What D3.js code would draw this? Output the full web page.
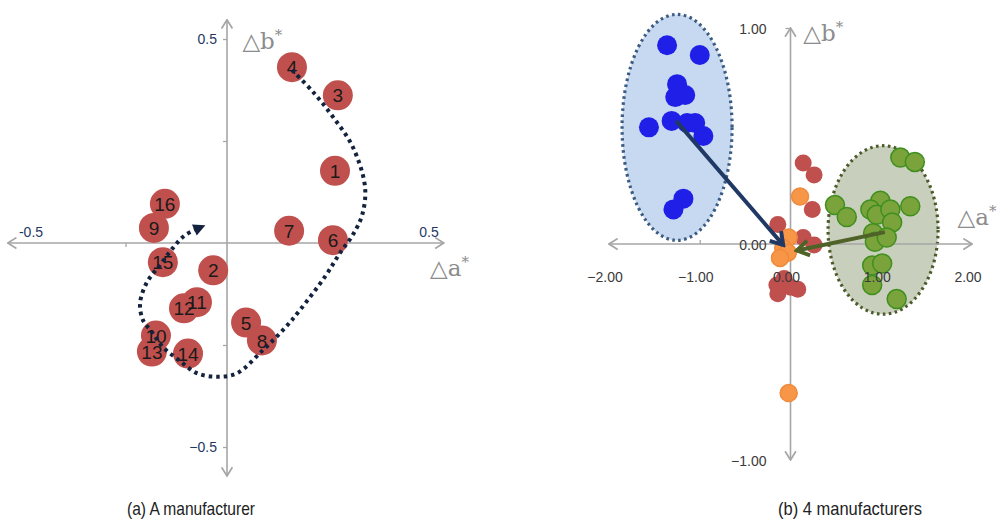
<!DOCTYPE html>
<html>
<head>
<meta charset="utf-8">
<script src="https://cdn.jsdelivr.net/npm/d3@7"></script>
<style>
  body { margin: 0; background: #fff; }
  svg { display: block; }
</style>
</head>
<body>
<div id="chart"></div>
<script>
// ---- panel (a): one manufacturer, 16 samples ----
const aIds = [1, 2, 3, 4, 5, 6, 7, 8, 9, 10, 11, 12, 13, 14, 15, 16];
const aX = [0.266, -0.034, 0.273, 0.160, 0.047, 0.261, 0.153, 0.086, -0.180, -0.175, -0.074, -0.106, -0.185, -0.096, -0.158, -0.153];
const aY = [0.177, -0.067, 0.362, 0.431, -0.195, 0.007, 0.030, -0.239, 0.037, -0.227, -0.145, -0.160, -0.266, -0.271, -0.047, 0.096];

// dotted trend path (drawn through the scales)
const trendX = [0.160, 0.212, 0.261, 0.310, 0.340, 0.333, 0.310, 0.278, 0.241, 0.180, 0.143, 0.089, 0.025, -0.022, -0.074, -0.116, -0.158, -0.185, -0.207, -0.214, -0.197, -0.165, -0.133, -0.105, -0.075];
const trendY = [0.424, 0.370, 0.309, 0.235, 0.137, 0.069, 0.020, -0.025, -0.083, -0.164, -0.208, -0.262, -0.319, -0.328, -0.319, -0.289, -0.255, -0.218, -0.189, -0.147, -0.096, -0.054, -0.012, 0.018, 0.034];

const aTickLabels = ["-0.5", "0.5"];

// ---- panel (b): four manufacturers ----
const redX = [0.14, 0.26, 0.24, -0.14, 0.14, 0.26, -0.12, -0.15, 0.00, -0.14, 0.08, -0.07];
const redY = [0.375, 0.32, 0.16, 0.09, 0.03, -0.005, -0.065, -0.19, -0.20, -0.23, -0.21, -0.16];
const orangeX = [0.105, -0.02, -0.08, -0.03, -0.115, -0.02];
const orangeY = [0.22, 0.03, -0.02, -0.04, -0.065, -0.69];
const blueX = [-1.36, -1.00, -1.25, -1.16, -1.27, -1.56, -1.31, -1.14, -1.05, -0.96, -1.18, -1.29];
const blueY = [0.92, 0.875, 0.74, 0.69, 0.68, 0.54, 0.57, 0.56, 0.56, 0.50, 0.21, 0.16];
const greenX = [1.21, 1.37, 0.49, 0.62, 0.99, 0.88, 0.95, 1.10, 1.32, 1.12, 0.91, 0.93, 1.06, 0.90, 1.01, 0.90, 1.17];
const greenY = [0.40, 0.38, 0.18, 0.125, 0.20, 0.16, 0.135, 0.16, 0.175, 0.10, 0.05, 0.01, 0.03, -0.10, -0.09, -0.19, -0.255];

// cluster ellipses: [cx, cy, rx, ry] in data units
const blueCluster = [-1.25, 0.54, 0.606, 0.523];
const greenCluster = [1.02, 0.065, 0.606, 0.39];

// shift arrows: [x1, y1, x2, y2]
const blueShift = [-1.26, 0.57, -0.08, -0.005];
const greenShift = [1.04, 0.055, 0.07, -0.03];

const bXTicks = [-2, -1, 0, 1, 2];
const bYTicks = [1, 0, -1];

const captions = ["(a) A manufacturer", "(b) 4 manufacturers"];

const W = 1004, H = 527;
const svg = d3.select("#chart").append("svg").attr("width", W).attr("height", H);

const defs = svg.append("defs");
defs.append("marker")
    .attr("id", "axis-arrow")
    .attr("viewBox", "0 0 10 12")
    .attr("refX", 9).attr("refY", 6)
    .attr("markerUnits", "userSpaceOnUse")
    .attr("markerWidth", 11).attr("markerHeight", 13)
    .attr("orient", "auto-start-reverse")
    .append("path")
    .attr("d", "M1,1L9,6L1,11")
    .attr("fill", "none")
    .attr("stroke", "#a6a6a6")
    .attr("stroke-width", 1.6);

defs.append("marker")
    .attr("id", "trend-arrow")
    .attr("viewBox", "0 0 10 10")
    .attr("refX", 2).attr("refY", 5)
    .attr("markerUnits", "userSpaceOnUse")
    .attr("markerWidth", 15).attr("markerHeight", 12)
    .attr("orient", "auto")
    .append("path")
    .attr("d", "M0,0L10,5L0,10Z")
    .attr("fill", "#14233d");

function chevron(id, color) {
    defs.append("marker")
        .attr("id", id)
        .attr("viewBox", "0 0 12 12")
        .attr("refX", 10).attr("refY", 6)
        .attr("markerUnits", "userSpaceOnUse")
        .attr("markerWidth", 18).attr("markerHeight", 18)
        .attr("orient", "auto")
        .append("path")
        .attr("d", "M2,1L10,6L2,11")
        .attr("fill", "none")
        .attr("stroke", color)
        .attr("stroke-width", 2.6)
        .attr("stroke-linejoin", "miter");
}
chevron("shift-blue", "#1f3864");
chevron("shift-green", "#4f6228");

function axisTitle(g, x, y, letter) {
    const t = g.append("text")
        .attr("x", x).attr("y", y)
        .attr("font-family", "DejaVu Serif, Liberation Serif, serif")
        .attr("font-size", 23)
        .attr("fill", "#8c8c8c");
    t.append("tspan").text("\u25B3" + letter);
    t.append("tspan").attr("dy", -9).attr("font-size", 15).text("*");
}

// ================= panel (a) =================
const xA = d3.scaleLinear().domain([-0.5, 0.5]).range([24, 430]);
const yA = d3.scaleLinear().domain([-0.5, 0.5]).range([447, 39]);
const gA = svg.append("g");

// axes
gA.append("line")
    .attr("x1", xA(-0.54)).attr("x2", xA(0.534))
    .attr("y1", yA(0)).attr("y2", yA(0))
    .attr("stroke", "#a6a6a6").attr("stroke-width", 1.6)
    .attr("marker-start", "url(#axis-arrow)").attr("marker-end", "url(#axis-arrow)");
gA.append("line")
    .attr("x1", xA(0)).attr("x2", xA(0))
    .attr("y1", yA(-0.571)).attr("y2", yA(0.547))
    .attr("stroke", "#a6a6a6").attr("stroke-width", 1.6)
    .attr("marker-start", "url(#axis-arrow)").attr("marker-end", "url(#axis-arrow)");

const axAx = gA.append("g")
    .attr("transform", `translate(0,${yA(0)})`)
    .call(d3.axisBottom(xA).tickValues([-0.25, 0.25]).tickSize(4).tickFormat(""));
const axAy = gA.append("g")
    .attr("transform", `translate(${xA(0)},0)`)
    .call(d3.axisLeft(yA).tickValues([-0.5, -0.25, 0.25, 0.5]).tickSize(4).tickPadding(6)
        .tickFormat(d => Math.abs(d) === 0.5 ? d3.format(".1f")(d) : ""));
[axAx, axAy].forEach(ax => {
    ax.select(".domain").remove();
    ax.selectAll(".tick line").attr("stroke", "#a6a6a6").attr("stroke-width", 1.3);
    ax.selectAll(".tick text")
        .attr("font-family", "Liberation Sans, Arial, sans-serif")
        .attr("font-size", 14).attr("fill", "#1f3864");
});

// x tick labels sit above the axis near the arrow tips
gA.selectAll("text.xlab")
    .data(aTickLabels)
    .join("text")
    .attr("class", "xlab")
    .attr("x", d => xA(+d) + (+d < 0 ? 7 : -1))
    .attr("y", yA(0) - 6)
    .attr("text-anchor", "middle")
    .attr("font-family", "Liberation Sans, Arial, sans-serif")
    .attr("font-size", 14).attr("fill", "#1f3864")
    .text(d => d);

axisTitle(gA, xA(0.038), yA(0.475), "b");
axisTitle(gA, xA(0.5), yA(-0.08), "a");

// samples
gA.selectAll("circle.pt")
    .data(aIds)
    .join("circle")
    .attr("class", "pt")
    .attr("cx", (d, i) => xA(aX[i]))
    .attr("cy", (d, i) => yA(aY[i]))
    .attr("r", 15)
    .attr("fill", "#c0504d");
gA.selectAll("text.num")
    .data(aIds)
    .join("text")
    .attr("class", "num")
    .attr("x", (d, i) => xA(aX[i]))
    .attr("y", (d, i) => yA(aY[i]) + 7)
    .attr("text-anchor", "middle")
    .attr("font-family", "Liberation Sans, Arial, sans-serif")
    .attr("font-size", 19)
    .attr("fill", "#1a1a1a")
    .text(d => d);

// dotted trend
const trendLine = d3.line()
    .x((d, i) => xA(trendX[i]))
    .y((d, i) => yA(trendY[i]))
    .curve(d3.curveCatmullRom.alpha(0.5));
gA.append("path")
    .attr("d", trendLine(trendX))
    .attr("fill", "none")
    .attr("stroke", "#14233d")
    .attr("stroke-width", 4)
    .attr("stroke-dasharray", "3.5,4")
    .attr("marker-end", "url(#trend-arrow)");

// ================= panel (b) =================
const xB = d3.scaleLinear().domain([-2, 2]).range([609, 972]);
const yB = d3.scaleLinear().domain([-1, 1]).range([460, 28]);
const gB = svg.append("g");

function cluster(c, fill, stroke) {
    gB.append("ellipse")
        .attr("cx", xB(c[0])).attr("cy", yB(c[1]))
        .attr("rx", xB(c[2]) - xB(0)).attr("ry", yB(0) - yB(c[3]))
        .attr("fill", fill)
        .attr("stroke", stroke)
        .attr("stroke-width", 3.2)
        .attr("stroke-dasharray", "2.6,3.4")
        .attr("stroke-linecap", "butt");
}
cluster(blueCluster, "#c6d9f0", "#3b5b82");
cluster(greenCluster, "#c8cfbc", "#4b5a2a");

gB.append("line")
    .attr("x1", xB(-2)).attr("x2", xB(2))
    .attr("y1", yB(0)).attr("y2", yB(0))
    .attr("stroke", "#a6a6a6").attr("stroke-width", 1.6)
    .attr("marker-start", "url(#axis-arrow)").attr("marker-end", "url(#axis-arrow)");
gB.append("line")
    .attr("x1", xB(0)).attr("x2", xB(0))
    .attr("y1", yB(-1)).attr("y2", yB(1))
    .attr("stroke", "#a6a6a6").attr("stroke-width", 1.6)
    .attr("marker-start", "url(#axis-arrow)").attr("marker-end", "url(#axis-arrow)");

const axBx = gB.append("g")
    .attr("transform", `translate(0,${yB(0)})`)
    .call(d3.axisTop(xB).tickValues([-1, 1]).tickSize(4).tickFormat(""));
const axBy = gB.append("g")
    .attr("transform", `translate(${xB(0)},0)`)
    .call(d3.axisLeft(yB).tickValues([1]).tickSize(5).tickFormat(""));
[axBx, axBy].forEach(ax => {
    ax.select(".domain").remove();
    ax.selectAll(".tick line").attr("stroke", "#a6a6a6").attr("stroke-width", 1.3);
});

function dots(xs, ys, fill, stroke, r) {
    gB.append("g").selectAll("circle")
        .data(xs)
        .join("circle")
        .attr("cx", (d, i) => xB(xs[i]))
        .attr("cy", (d, i) => yB(ys[i]))
        .attr("r", r)
        .attr("fill", fill)
        .attr("stroke", stroke)
        .attr("stroke-width", stroke === "none" ? 0 : 1.5);
}
dots(redX, redY, "#c0504d", "none", 8.5);
dots(orangeX, orangeY, "#f79646", "#f08a3c", 8.5);
dots(blueX, blueY, "#1f1fe8", "none", 10);
dots(greenX, greenY, "#7aa33c", "#3f8f1e", 9.5);

const tickFmt = d3.format(".2f");
gB.selectAll("text.xlab")
    .data(bXTicks)
    .join("text")
    .attr("class", "xlab")
    .attr("x", d => xB(d) - 4)
    .attr("y", yB(0) + 38)
    .attr("text-anchor", "middle")
    .attr("font-family", "Liberation Sans, Arial, sans-serif")
    .attr("font-size", 14).attr("fill", "#3a3a3a")
    .text(d => tickFmt(d));
gB.selectAll("text.ylab")
    .data(bYTicks)
    .join("text")
    .attr("class", "ylab")
    .attr("x", xB(0) - 24)
    .attr("y", d => yB(d) + 6)
    .attr("text-anchor", "end")
    .attr("font-family", "Liberation Sans, Arial, sans-serif")
    .attr("font-size", 14).attr("fill", "#3a3a3a")
    .text(d => tickFmt(d));

axisTitle(gB, xB(0.14), yB(0.94), "b");
axisTitle(gB, xB(1.84), yB(0.09), "a");

function shift(s, color, marker) {
    gB.append("line")
        .attr("x1", xB(s[0])).attr("y1", yB(s[1]))
        .attr("x2", xB(s[2])).attr("y2", yB(s[3]))
        .attr("stroke", color)
        .attr("stroke-width", 4)
        .attr("marker-end", `url(#${marker})`);
}
shift(blueShift, "#1f3864", "shift-blue");
shift(greenShift, "#4f6228", "shift-green");

// ---- captions (condensed like the source font) ----
svg.selectAll("text.caption")
    .data(captions)
    .join("text")
    .attr("class", "caption")
    .attr("x", (d, i) => i === 0 ? 127 : 778)
    .attr("y", 515)
    .attr("textLength", (d, i) => i === 0 ? 128 : 144)
    .attr("lengthAdjust", "spacingAndGlyphs")
    .attr("font-family", "Liberation Sans, Arial, sans-serif")
    .attr("font-size", 19)
    .attr("fill", "#222")
    .text(d => d);
</script>
</body>
</html>
